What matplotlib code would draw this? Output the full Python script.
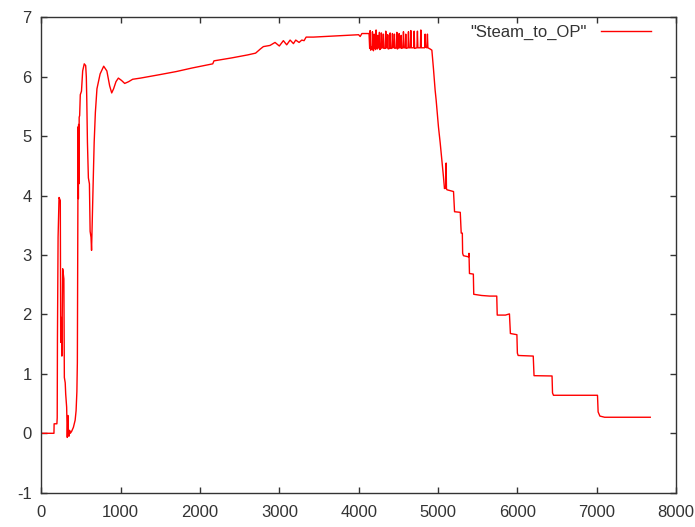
import matplotlib
matplotlib.use('Agg')
import matplotlib.pyplot as plt

# Steam_to_OP trace
time_s = [
    0, 158, 160, 195, 199, 202, 210, 222, 238, 243, 251, 258, 268, 283, 289,
    300, 306, 318, 326, 334, 340, 346, 355, 364, 380, 403, 425, 437, 447, 453,
    458, 463, 466, 469, 472, 476, 482, 490, 505, 520, 540, 558, 566, 572, 580,
    592, 605, 614, 625, 632, 640, 652, 665, 680, 700, 740, 785, 825, 860, 886,
    910, 940, 970, 1010, 1050, 1100, 1150, 1250, 1500, 1700, 1900, 2160, 2175,
    2400, 2600, 2700, 2760, 2798, 2882, 2945, 2999, 3050, 3092, 3135, 3177,
    3206, 3248, 3282, 3311, 3337, 3429, 3724, 3999, 4018, 4040, 4130,
    4138, 4144, 4150, 4160, 4168, 4173, 4178, 4186, 4194, 4200, 4212, 4219,
    4226, 4236, 4241, 4246, 4256, 4261, 4266, 4280, 4286, 4292, 4305, 4311,
    4317, 4335, 4341, 4347, 4360, 4366, 4372, 4390, 4396, 4402, 4419, 4425,
    4431, 4444, 4450, 4456, 4475, 4481, 4487, 4504, 4510, 4516, 4529, 4535,
    4541, 4558, 4564, 4570, 4587, 4593, 4599, 4621, 4627, 4633, 4651, 4657,
    4663, 4693, 4699, 4705, 4734, 4740, 4746, 4777, 4783, 4789, 4831, 4837,
    4843, 4860, 4866, 4872, 4900,
    4922, 4942, 4963, 4976, 5005, 5027, 5048, 5068, 5081, 5090, 5098, 5102,
    5106, 5112, 5195, 5208, 5280, 5292, 5306, 5310, 5320, 5385, 5390, 5396,
    5445, 5450, 5550, 5650, 5740, 5746, 5850, 5900, 5912, 5994, 6000, 6010,
    6200, 6210, 6437, 6443, 6455, 7010, 7018, 7040, 7100, 7675,
]
steam_to_op = [
    0.0, 0.0, 0.16, 0.16, 0.26, 1.6, 3.3, 3.97, 3.92, 1.53, 1.95, 1.3, 2.77, 2.6, 0.94,
    0.85, 0.66, 0.44, -0.07, 0.3, 0.05, -0.05, 0.05, 0.0, 0.03, 0.1, 0.22, 0.38, 0.7, 1.19,
    3.3, 5.16, 3.95, 5.2, 4.2, 5.32, 5.35, 5.7, 5.76, 6.1, 6.22, 6.19, 6.0, 5.6, 4.9,
    4.3, 4.2, 3.4, 3.3, 3.08, 3.5, 4.2, 4.9, 5.4, 5.8, 6.05, 6.18, 6.1, 5.85, 5.73,
    5.8, 5.92, 5.98, 5.94, 5.89, 5.92, 5.96, 5.98, 6.04, 6.09, 6.15, 6.22, 6.27,
    6.32, 6.37, 6.40, 6.47, 6.51, 6.53, 6.58, 6.52, 6.61, 6.54, 6.62, 6.56,
    6.62, 6.58, 6.62, 6.61, 6.67, 6.67, 6.69, 6.71, 6.68, 6.73, 6.73,
    6.48, 6.78, 6.45, 6.5, 6.46, 6.76, 6.48, 6.44, 6.72, 6.5, 6.46, 6.79,
    6.48, 6.47, 6.7, 6.49, 6.49, 6.75, 6.46, 6.48, 6.74, 6.49, 6.49, 6.72,
    6.48, 6.48, 6.77, 6.49, 6.49, 6.71, 6.47, 6.48, 6.74, 6.48, 6.48, 6.73,
    6.5, 6.49, 6.72, 6.48, 6.49, 6.75, 6.47, 6.49, 6.73, 6.49, 6.49, 6.7,
    6.48, 6.49, 6.76, 6.49, 6.49, 6.72, 6.48, 6.49, 6.76, 6.49, 6.49, 6.78,
    6.49, 6.49, 6.77, 6.48, 6.49, 6.77, 6.49, 6.49, 6.79, 6.49, 6.49, 6.72,
    6.5, 6.49, 6.72, 6.49, 6.47,
    6.45, 6.14, 5.78, 5.61, 5.16, 4.89, 4.6, 4.32, 4.12, 4.15, 4.12, 4.55,
    4.12, 4.1, 4.07, 3.73, 3.72, 3.37, 3.37, 3.03, 2.99, 2.97, 3.03, 2.69,
    2.68, 2.34, 2.32, 2.31, 2.31, 1.99, 1.99, 2.01, 1.68, 1.66, 1.35, 1.31,
    1.3, 0.97, 0.965, 0.68, 0.64, 0.64, 0.36, 0.29, 0.27, 0.27,
]
x_ticks = [0, 1000, 2000, 3000, 4000, 5000, 6000, 7000, 8000]
y_ticks = [-1, 0, 1, 2, 3, 4, 5, 6, 7]

plt.rcParams['font.family'] = ['Liberation Sans', 'DejaVu Sans']
plt.rcParams['axes.unicode_minus'] = False

fig = plt.figure(figsize=(6.95, 5.27), dpi=100)
ax = fig.add_axes([0.0596, 0.0651, 0.9131, 0.9017])

ax.plot(time_s, steam_to_op, color='#ff0000', linewidth=1.0, label='"Steam_to_OP"')

ax.set_xlim(0, 8000)
ax.set_ylim(-1, 7)
ax.set_xticks(x_ticks)
ax.set_yticks(y_ticks)

# gnuplot look: inward ticks mirrored on all four sides
ax.tick_params(direction='in', length=4.5, width=1, color='#333333',
               labelsize=12, labelcolor='#333333', pad=7,
               top=True, right=True)
ax.tick_params(axis='x', pad=9)
for side in ax.spines.values():
    side.set_color('#333333')
    side.set_linewidth(1.0)

ax.legend(loc='center right', bbox_to_anchor=(0.9606, 0.9695),
          frameon=False, markerfirst=False, fontsize=12,
          handlelength=3.0, handletextpad=0.85,
          borderpad=0, borderaxespad=0, labelcolor='#333333')

fig.savefig('out.png', dpi=100)
